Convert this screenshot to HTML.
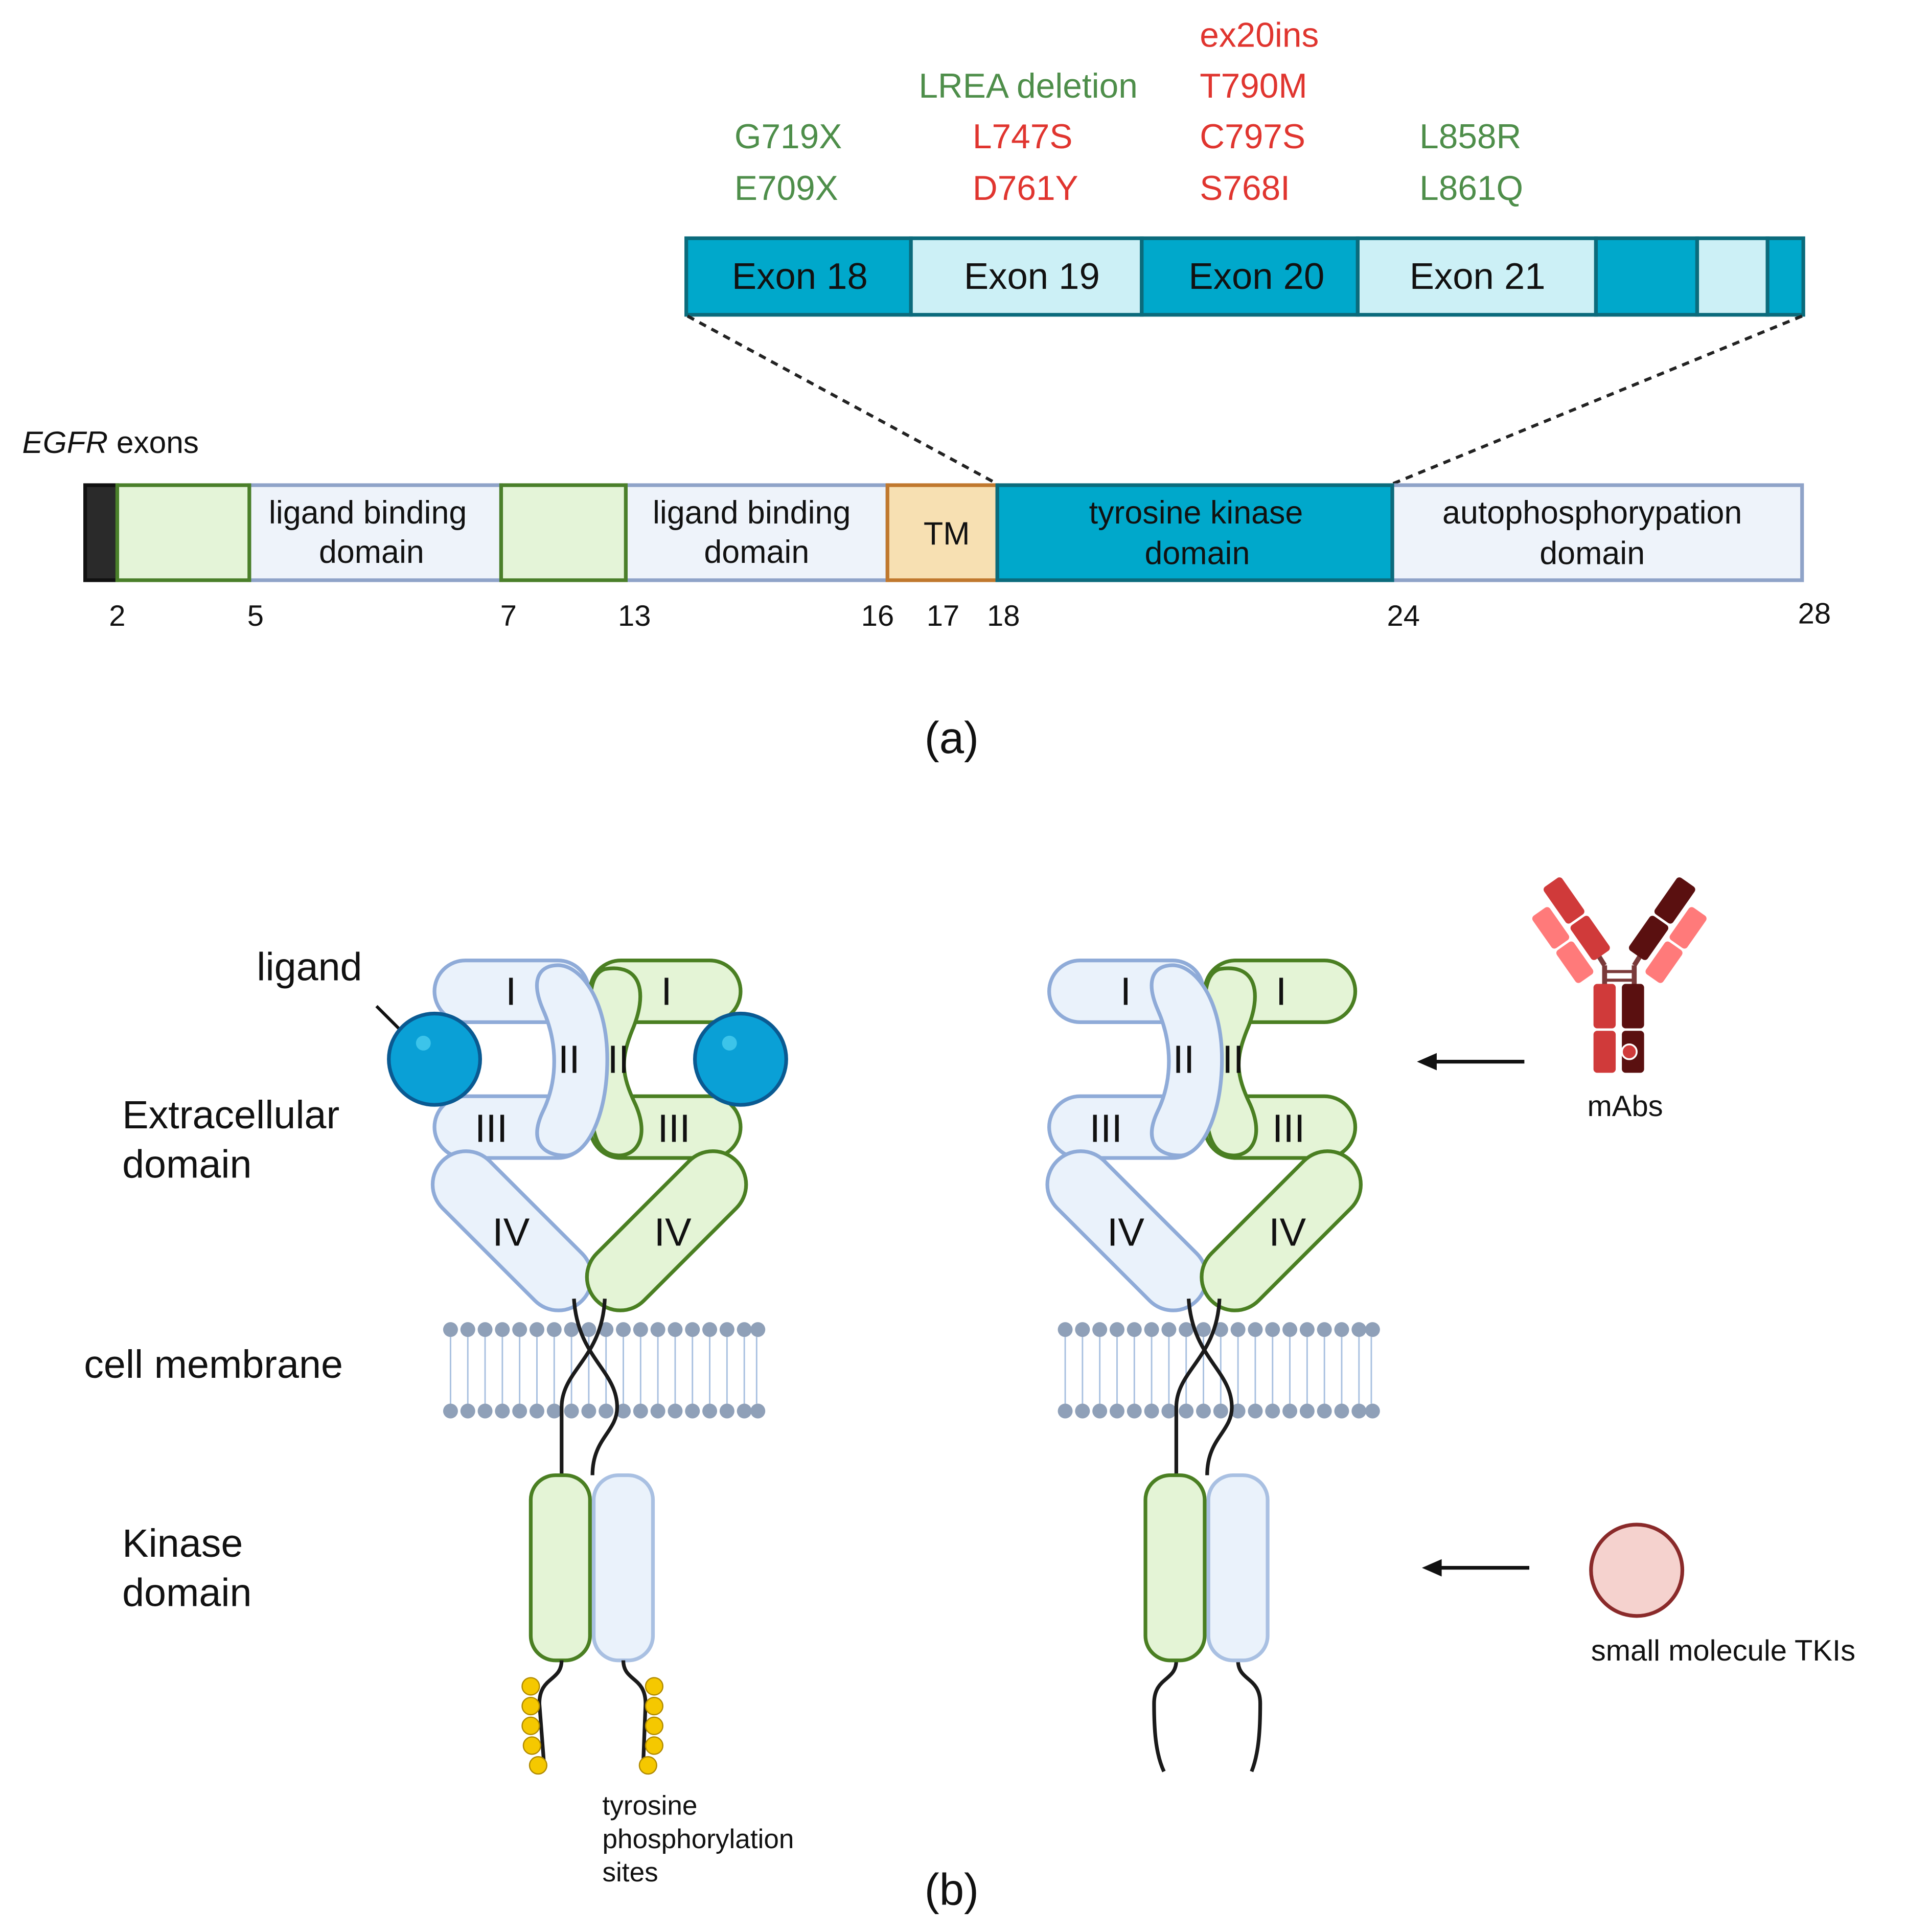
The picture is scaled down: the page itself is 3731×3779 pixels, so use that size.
<!DOCTYPE html>
<html><head><meta charset="utf-8"><style>
html,body{margin:0;padding:0;background:#fff}
svg{display:block}
text{font-family:"Liberation Sans",sans-serif}
</style></head><body>
<svg width="3731" height="3779" viewBox="0 0 1545 1565" preserveAspectRatio="none" xmlns="http://www.w3.org/2000/svg">
<rect width="1545" height="1565" fill="#fff"/>
<g font-size="28">
<text x="595" y="120" fill="#4e8e4a">G719X</text>
<text x="595" y="162" fill="#4e8e4a">E709X</text>
<text x="833" y="79" fill="#4e8e4a" text-anchor="middle">LREA deletion</text>
<text x="788" y="120" fill="#e0352f">L747S</text>
<text x="788" y="162" fill="#e0352f">D761Y</text>
<text x="972" y="38" fill="#e0352f">ex20ins</text>
<text x="972" y="79" fill="#e0352f">T790M</text>
<text x="972" y="120" fill="#e0352f">C797S</text>
<text x="972" y="162" fill="#e0352f">S768I</text>
<text x="1150" y="120" fill="#4e8e4a">L858R</text>
<text x="1150" y="162" fill="#4e8e4a">L861Q</text>
</g>
<g stroke="#0b6b7c" stroke-width="3">
<rect x="556" y="193" width="182" height="62" fill="#00a8cb"/>
<rect x="738" y="193" width="187" height="62" fill="#ccf0f6"/>
<rect x="925" y="193" width="175" height="62" fill="#00a8cb"/>
<rect x="1100" y="193" width="193" height="62" fill="#ccf0f6"/>
<rect x="1293" y="193" width="82" height="62" fill="#00a8cb"/>
<rect x="1375" y="193" width="57" height="62" fill="#ccf0f6"/>
<rect x="1432" y="193" width="29" height="62" fill="#00a8cb"/>
</g>
<g font-size="30" fill="#111" text-anchor="middle">
<text x="648" y="234">Exon 18</text>
<text x="836" y="234">Exon 19</text>
<text x="1018" y="234">Exon 20</text>
<text x="1197" y="234">Exon 21</text>
</g>
<g stroke="#222" stroke-width="2.5" stroke-dasharray="6,5">
<line x1="557" y1="256" x2="808" y2="392"/>
<line x1="1460" y1="256" x2="1128" y2="392"/>
</g>
<text x="18" y="367" font-size="25" fill="#111"><tspan font-style="italic">EGFR</tspan> exons</text>
<g stroke-width="3">
<rect x="69" y="393" width="26" height="77" fill="#2a2a2a" stroke="#111"/>
<rect x="202" y="393" width="204" height="77" fill="#eef3fa" stroke="#8fa3c8"/>
<rect x="507" y="393" width="212" height="77" fill="#eef3fa" stroke="#8fa3c8"/>
<rect x="1128" y="393" width="332" height="77" fill="#eef3fa" stroke="#8fa3c8"/>
<rect x="95" y="393" width="107" height="77" fill="#e4f4d8" stroke="#4a7f2a"/>
<rect x="406" y="393" width="101" height="77" fill="#e4f4d8" stroke="#4a7f2a"/>
<rect x="719" y="393" width="89" height="77" fill="#f7e0b2" stroke="#c0782e"/>
<rect x="808" y="393" width="320" height="77" fill="#00a8cb" stroke="#0b6b7c"/>
</g>
<g font-size="26" fill="#111" text-anchor="middle">
<text x="298" y="424">ligand binding</text><text x="301" y="456">domain</text>
<text x="609" y="424">ligand binding</text><text x="613" y="456">domain</text>
<text x="767" y="441">TM</text>
<text x="969" y="424">tyrosine kinase</text><text x="970" y="457">domain</text>
<text x="1290" y="424">autophosphorypation</text><text x="1290" y="457">domain</text>
</g>
<g font-size="24" fill="#111" text-anchor="middle">
<text x="95" y="507">2</text><text x="207" y="507">5</text><text x="412" y="507">7</text>
<text x="514" y="507">13</text><text x="711" y="507">16</text><text x="764" y="507">17</text>
<text x="813" y="507">18</text><text x="1137" y="507">24</text><text x="1470" y="505">28</text>
</g>
<text x="771" y="610" font-size="36" font-family="Liberation Serif, serif" text-anchor="middle" fill="#111">(a)</text>
<text x="771" y="1543" font-size="36" font-family="Liberation Serif, serif" text-anchor="middle" fill="#111">(b)</text>

<g font-size="32" fill="#111">
<text x="208" y="794">ligand</text>
<text x="99" y="914">Extracellular</text><text x="99" y="954">domain</text>
<text x="68" y="1116">cell membrane</text>
<text x="99" y="1261">Kinase</text><text x="99" y="1301">domain</text>
</g>
<g font-size="22" fill="#111">
<text x="488" y="1470">tyrosine</text><text x="488" y="1497">phosphorylation</text><text x="488" y="1524">sites</text>
</g>
<line x1="305" y1="815" x2="328" y2="838" stroke="#111" stroke-width="2.5"/>

<g>
<g stroke-width="3">
<rect x="352" y="778" width="125" height="50" rx="25" fill="#eaf2fb" stroke="#8fabd8"/>
<rect x="352" y="888" width="125" height="50" rx="25" fill="#eaf2fb" stroke="#8fabd8"/>
<rect x="478" y="778" width="122" height="50" rx="25" fill="#e4f4d6" stroke="#4a7f22"/>
<rect x="478" y="888" width="122" height="50" rx="25" fill="#e4f4d6" stroke="#4a7f22"/>
<path d="M490 785 C520 780 525 805 512 835 C503 858 503 870 515 895 C528 925 512 940 495 935 C478 930 478 900 478 858 C478 815 475 790 490 785Z" fill="#e4f4d6" stroke="#4a7f22"/>
<path d="M450 782 C470 780 492 810 492 858 C492 905 475 936 458 936 C440 936 428 925 440 900 C452 875 452 845 440 818 C430 795 436 783 450 782Z" fill="#eaf2fb" stroke="#8fabd8"/>
<rect x="335" y="970" width="160" height="54" rx="27" fill="#eaf2fb" stroke="#8fabd8" transform="rotate(45 415 997)"/>
<rect x="460" y="970" width="160" height="54" rx="27" fill="#e4f4d6" stroke="#4a7f22" transform="rotate(-45 540 997)"/>
</g>
<g font-size="32" fill="#111" text-anchor="middle">
<text x="414" y="814">I</text><text x="540" y="814">I</text>
<text x="461" y="869">II</text><text x="501" y="869">II</text>
<text x="398" y="925">III</text><text x="546" y="925">III</text>
<text x="414" y="1009">IV</text><text x="545" y="1009">IV</text>
</g>
<g stroke="#a8c0e0" stroke-width="1.2">
<path d="M365 1083V1137M379 1083V1137M393 1083V1137M407 1083V1137M421 1083V1137M435 1083V1137M449 1083V1137M463 1083V1137M477 1083V1137M491 1083V1137M505 1083V1137M519 1083V1137M533 1083V1137M547 1083V1137M561 1083V1137M575 1083V1137M589 1083V1137M603 1083V1137M613 1083V1137"/>
</g>
<g fill="#8fa0b8">
<circle cx="365" cy="1077" r="6"/><circle cx="379" cy="1077" r="6"/><circle cx="393" cy="1077" r="6"/><circle cx="407" cy="1077" r="6"/><circle cx="421" cy="1077" r="6"/><circle cx="435" cy="1077" r="6"/><circle cx="449" cy="1077" r="6"/><circle cx="463" cy="1077" r="6"/><circle cx="477" cy="1077" r="6"/><circle cx="491" cy="1077" r="6"/><circle cx="505" cy="1077" r="6"/><circle cx="519" cy="1077" r="6"/><circle cx="533" cy="1077" r="6"/><circle cx="547" cy="1077" r="6"/><circle cx="561" cy="1077" r="6"/><circle cx="575" cy="1077" r="6"/><circle cx="589" cy="1077" r="6"/><circle cx="603" cy="1077" r="6"/><circle cx="614" cy="1077" r="6"/>
<circle cx="365" cy="1143" r="6"/><circle cx="379" cy="1143" r="6"/><circle cx="393" cy="1143" r="6"/><circle cx="407" cy="1143" r="6"/><circle cx="421" cy="1143" r="6"/><circle cx="435" cy="1143" r="6"/><circle cx="449" cy="1143" r="6"/><circle cx="463" cy="1143" r="6"/><circle cx="477" cy="1143" r="6"/><circle cx="491" cy="1143" r="6"/><circle cx="505" cy="1143" r="6"/><circle cx="519" cy="1143" r="6"/><circle cx="533" cy="1143" r="6"/><circle cx="547" cy="1143" r="6"/><circle cx="561" cy="1143" r="6"/><circle cx="575" cy="1143" r="6"/><circle cx="589" cy="1143" r="6"/><circle cx="603" cy="1143" r="6"/><circle cx="614" cy="1143" r="6"/>
</g>
<g fill="none" stroke="#1a1a1a" stroke-width="3">
<path d="M465 1052 C468 1100 500 1110 500 1140 C500 1160 480 1165 480 1195"/>
<path d="M490 1052 C488 1100 455 1110 455 1140 C455 1160 455 1170 455 1195"/>
</g>
<rect x="430" y="1195" width="48" height="150" rx="20" fill="#e4f4d6" stroke="#4a7f22" stroke-width="3"/>
<rect x="481" y="1195" width="48" height="150" rx="20" fill="#eaf2fb" stroke="#a9c0e2" stroke-width="3"/>
</g>
<g fill="none" stroke="#1a1a1a" stroke-width="3">
<path d="M455 1345 C455 1362 437 1358 437 1380 L441 1432"/>
<path d="M505 1345 C505 1362 523 1358 523 1380 L521 1432"/>
</g>
<g fill="#f5c800" stroke="#b08a00" stroke-width="1">
<circle cx="430" cy="1366" r="7"/><circle cx="430" cy="1382" r="7"/><circle cx="430" cy="1398" r="7"/><circle cx="431" cy="1414" r="7"/><circle cx="436" cy="1430" r="7"/>
<circle cx="530" cy="1366" r="7"/><circle cx="530" cy="1382" r="7"/><circle cx="530" cy="1398" r="7"/><circle cx="530" cy="1414" r="7"/><circle cx="525" cy="1430" r="7"/>
</g>
<circle cx="352" cy="858" r="37" fill="#0aa0d6" stroke="#0a5a92" stroke-width="3"/>
<circle cx="600" cy="858" r="37" fill="#0aa0d6" stroke="#0a5a92" stroke-width="3"/>
<circle cx="343" cy="845" r="6" fill="#3cc4ea"/><circle cx="591" cy="845" r="6" fill="#3cc4ea"/>

<g transform="translate(498 0)">
<g stroke-width="3">
<rect x="352" y="778" width="125" height="50" rx="25" fill="#eaf2fb" stroke="#8fabd8"/>
<rect x="352" y="888" width="125" height="50" rx="25" fill="#eaf2fb" stroke="#8fabd8"/>
<rect x="478" y="778" width="122" height="50" rx="25" fill="#e4f4d6" stroke="#4a7f22"/>
<rect x="478" y="888" width="122" height="50" rx="25" fill="#e4f4d6" stroke="#4a7f22"/>
<path d="M490 785 C520 780 525 805 512 835 C503 858 503 870 515 895 C528 925 512 940 495 935 C478 930 478 900 478 858 C478 815 475 790 490 785Z" fill="#e4f4d6" stroke="#4a7f22"/>
<path d="M450 782 C470 780 492 810 492 858 C492 905 475 936 458 936 C440 936 428 925 440 900 C452 875 452 845 440 818 C430 795 436 783 450 782Z" fill="#eaf2fb" stroke="#8fabd8"/>
<rect x="335" y="970" width="160" height="54" rx="27" fill="#eaf2fb" stroke="#8fabd8" transform="rotate(45 415 997)"/>
<rect x="460" y="970" width="160" height="54" rx="27" fill="#e4f4d6" stroke="#4a7f22" transform="rotate(-45 540 997)"/>
</g>
<g font-size="32" fill="#111" text-anchor="middle">
<text x="414" y="814">I</text><text x="540" y="814">I</text>
<text x="461" y="869">II</text><text x="501" y="869">II</text>
<text x="398" y="925">III</text><text x="546" y="925">III</text>
<text x="414" y="1009">IV</text><text x="545" y="1009">IV</text>
</g>
<g stroke="#a8c0e0" stroke-width="1.2">
<path d="M365 1083V1137M379 1083V1137M393 1083V1137M407 1083V1137M421 1083V1137M435 1083V1137M449 1083V1137M463 1083V1137M477 1083V1137M491 1083V1137M505 1083V1137M519 1083V1137M533 1083V1137M547 1083V1137M561 1083V1137M575 1083V1137M589 1083V1137M603 1083V1137M613 1083V1137"/>
</g>
<g fill="#8fa0b8">
<circle cx="365" cy="1077" r="6"/><circle cx="379" cy="1077" r="6"/><circle cx="393" cy="1077" r="6"/><circle cx="407" cy="1077" r="6"/><circle cx="421" cy="1077" r="6"/><circle cx="435" cy="1077" r="6"/><circle cx="449" cy="1077" r="6"/><circle cx="463" cy="1077" r="6"/><circle cx="477" cy="1077" r="6"/><circle cx="491" cy="1077" r="6"/><circle cx="505" cy="1077" r="6"/><circle cx="519" cy="1077" r="6"/><circle cx="533" cy="1077" r="6"/><circle cx="547" cy="1077" r="6"/><circle cx="561" cy="1077" r="6"/><circle cx="575" cy="1077" r="6"/><circle cx="589" cy="1077" r="6"/><circle cx="603" cy="1077" r="6"/><circle cx="614" cy="1077" r="6"/>
<circle cx="365" cy="1143" r="6"/><circle cx="379" cy="1143" r="6"/><circle cx="393" cy="1143" r="6"/><circle cx="407" cy="1143" r="6"/><circle cx="421" cy="1143" r="6"/><circle cx="435" cy="1143" r="6"/><circle cx="449" cy="1143" r="6"/><circle cx="463" cy="1143" r="6"/><circle cx="477" cy="1143" r="6"/><circle cx="491" cy="1143" r="6"/><circle cx="505" cy="1143" r="6"/><circle cx="519" cy="1143" r="6"/><circle cx="533" cy="1143" r="6"/><circle cx="547" cy="1143" r="6"/><circle cx="561" cy="1143" r="6"/><circle cx="575" cy="1143" r="6"/><circle cx="589" cy="1143" r="6"/><circle cx="603" cy="1143" r="6"/><circle cx="614" cy="1143" r="6"/>
</g>
<g fill="none" stroke="#1a1a1a" stroke-width="3">
<path d="M465 1052 C468 1100 500 1110 500 1140 C500 1160 480 1165 480 1195"/>
<path d="M490 1052 C488 1100 455 1110 455 1140 C455 1160 455 1170 455 1195"/>
<path d="M455 1345 C455 1362 437 1358 437 1380 C437 1400 438 1420 445 1435"/>
<path d="M505 1345 C505 1362 523 1358 523 1380 C523 1400 522 1420 516 1435"/>
</g>
<rect x="430" y="1195" width="48" height="150" rx="20" fill="#e4f4d6" stroke="#4a7f22" stroke-width="3"/>
<rect x="481" y="1195" width="48" height="150" rx="20" fill="#eaf2fb" stroke="#a9c0e2" stroke-width="3"/>
</g>

<g stroke="#111" stroke-width="3">
<line x1="1235" y1="860" x2="1160" y2="860"/>
<line x1="1239" y1="1270" x2="1165" y2="1270"/>
</g>
<path d="M1148 860 L1164 853 L1164 867Z" fill="#111"/>
<path d="M1152 1270 L1168 1263 L1168 1277Z" fill="#111"/>

<g>
<line x1="1300" y1="782" x2="1300" y2="800" stroke="#7a3a3a" stroke-width="4"/>
<line x1="1324" y1="782" x2="1324" y2="800" stroke="#7a3a3a" stroke-width="4"/>
<line x1="1300" y1="787" x2="1324" y2="787" stroke="#7a3a3a" stroke-width="2.5"/>
<line x1="1300" y1="794" x2="1324" y2="794" stroke="#7a3a3a" stroke-width="2.5"/>
<path d="M1300 782 L1290 766" stroke="#7a3a3a" stroke-width="4"/>
<path d="M1324 782 L1334 766" stroke="#7a3a3a" stroke-width="4"/>
<rect x="1291" y="797" width="18" height="36" rx="3" fill="#d03a3a"/>
<rect x="1291" y="835" width="18" height="34" rx="3" fill="#d03a3a"/>
<rect x="1314" y="797" width="18" height="36" rx="3" fill="#5a1010"/>
<rect x="1314" y="835" width="18" height="34" rx="3" fill="#5a1010"/>
<circle cx="1320" cy="852" r="6" fill="#d03a3a" stroke="#fff" stroke-width="1.5"/>
<g transform="rotate(-35 1278 745)">
<rect x="1269" y="708" width="18" height="36" rx="3" fill="#d03a3a"/>
<rect x="1269" y="746" width="18" height="34" rx="3" fill="#d03a3a"/>
<rect x="1248" y="722" width="17" height="32" rx="3" fill="#ff7a7a"/>
<rect x="1248" y="756" width="17" height="32" rx="3" fill="#ff7a7a"/>
</g>
<g transform="rotate(35 1346 745)">
<rect x="1337" y="708" width="18" height="36" rx="3" fill="#5a1010"/>
<rect x="1337" y="746" width="18" height="34" rx="3" fill="#5a1010"/>
<rect x="1359" y="722" width="17" height="32" rx="3" fill="#ff7a7a"/>
<rect x="1359" y="756" width="17" height="32" rx="3" fill="#ff7a7a"/>
</g>
</g>
<text x="1286" y="904" font-size="24" fill="#111">mAbs</text>
<circle cx="1326" cy="1272" r="37" fill="#f5d2ce" stroke="#8a2a2a" stroke-width="3"/>
<text x="1289" y="1345" font-size="24" fill="#111">small molecule TKIs</text>
</svg>
</body></html>
